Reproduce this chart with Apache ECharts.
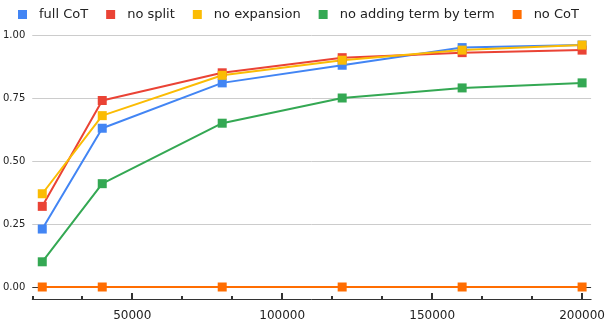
<!DOCTYPE html>
<html>
<head>
<meta charset="utf-8">
<script src="https://cdn.jsdelivr.net/npm/echarts@6/dist/echarts.min.js"></script>
<style>
  html, body { margin: 0; padding: 0; background: #fff; }
  #chart { width: 608px; height: 322px; }
</style>
</head>
<body>
<div id="chart"></div>
<script>
// training set size (x) and accuracy per variant
var steps = [20000, 40000, 80000, 120000, 160000, 200000]
var fullCot = [0.23, 0.63, 0.81, 0.88, 0.95, 0.96]
var noSplit = [0.32, 0.74, 0.85, 0.91, 0.93, 0.94]
var noExpansion = [0.37, 0.68, 0.84, 0.90, 0.94, 0.96]
var noAdding = [0.10, 0.41, 0.65, 0.75, 0.79, 0.81]
var noCot = [0, 0, 0, 0, 0, 0]

var seriesNames = ['full CoT', 'no split', 'no expansion', 'no adding term by term', 'no CoT']
var seriesColors = ['#4285F4', '#EA4335', '#FBBC04', '#34A853', '#FF6D01']
var seriesValues = [fullCot, noSplit, noExpansion, noAdding, noCot]

var xLabels = [50000, 100000, 150000, 200000]
var xMin = 16667
var xMax = 203000
// small ticks every third of 50000
var xMinorTicks = []
for (var k = 1; k <= 11; k++) {
  var v = Math.round(k * 50000 / 3)
  if (k % 3 !== 0) xMinorTicks.push(v)
}

var font = 'DejaVu Sans'
var myChart = echarts.init(document.getElementById('chart'), null, { renderer: 'canvas' })

var series = seriesNames.map(function (name, i) {
  return {
    name: name,
    type: 'line',
    data: steps.map(function (s, j) { return [s, seriesValues[i][j]] }),
    symbol: 'rect',
    symbolSize: 9,
    clip: false,
    itemStyle: { color: seriesColors[i] },
    lineStyle: { color: seriesColors[i], width: 2 },
    emphasis: { disabled: true }
  }
})

var option = {
  animation: false,
  color: seriesColors,
  legend: {
    top: 3,
    left: 13,
    icon: 'rect',
    itemWidth: 9,
    itemHeight: 9,
    itemGap: 18,
    // extra space between the square and its label
    formatter: function (name) { return '{t|' + name + '}' },
    textStyle: {
      fontFamily: font,
      fontSize: 13,
      color: '#222',
      rich: { t: { fontFamily: font, fontSize: 13, color: '#222', padding: [0, 0, 0, 7] } }
    },
    data: seriesNames
  },
  grid: { left: 32, right: 14, top: 35, bottom: 34 },
  xAxis: [
    {
      type: 'value',
      min: xMin,
      max: xMax,
      position: 'bottom',
      offset: 12,
      axisLine: { onZero: false, lineStyle: { color: '#333', width: 1 } },
      axisTick: { show: true, inside: true, length: 6, customValues: xLabels, lineStyle: { color: '#333', width: 2 } },
      axisLabel: {
        customValues: xLabels,
        fontFamily: font,
        fontSize: 12,
        color: '#222',
        margin: 11,
        formatter: function (v) { return String(v) }
      },
      splitLine: { show: false }
    },
    {
      type: 'value',
      min: xMin,
      max: xMax,
      position: 'bottom',
      offset: 12,
      axisLine: { show: false, onZero: false },
      axisTick: { show: true, inside: true, length: 3, customValues: xMinorTicks, lineStyle: { color: '#333', width: 2 } },
      axisLabel: { show: false },
      splitLine: { show: false }
    }
  ],
  yAxis: {
    type: 'value',
    min: 0,
    max: 1,
    interval: 0.25,
    axisLine: { show: false },
    axisTick: { show: false },
    axisLabel: {
      fontFamily: font,
      fontSize: 10,
      color: '#222',
      margin: 7,
      formatter: function (v) { return v.toFixed(2) }
    },
    splitLine: { lineStyle: { color: ['#333', '#ccc', '#ccc', '#ccc', '#ccc'], width: 1 } }
  },
  series: series
}

myChart.setOption(option)
</script>
</body>
</html>
